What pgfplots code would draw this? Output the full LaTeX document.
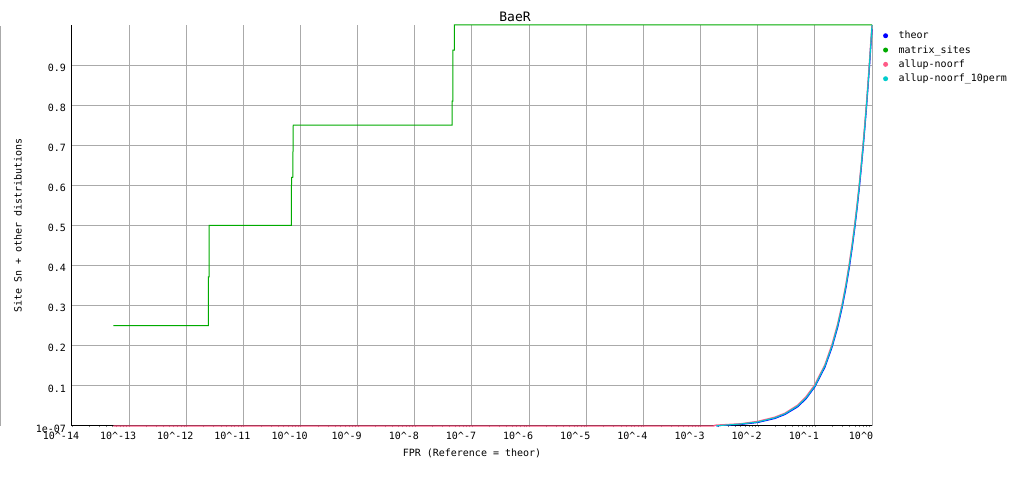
\documentclass[border=0pt]{standalone}
\usepackage{pgfplots}
\pgfplotsset{compat=1.18}
\usepackage{fontspec}
\setmonofont{DejaVu Sans Mono}
\definecolor{cTheor}{RGB}{0,0,255}
\definecolor{cMatrix}{RGB}{0,170,0}
\definecolor{cPink}{RGB}{255,90,135}
\definecolor{cCyan}{RGB}{0,204,204}
\definecolor{cGrid}{RGB}{170,170,170}
\begin{document}
\begin{tikzpicture}
\useasboundingbox (-72pt,-52pt) rectangle (958pt,426pt);
\draw[cGrid, line width=1pt] (-71.5pt,0pt) -- (-71.5pt,400pt);
\begin{axis}[
  at={(0pt,0pt)}, anchor=south west,
  scale only axis, width=800pt, height=401pt,
  xmode=log, xmin=1e-14, xmax=1, ymin=1e-7, ymax=1,
  axis x line=bottom, axis y line=left,
  axis line style={-, black, line width=1pt},
  major tick length=0pt,
  clip=false,
  font=\ttfamily\fontsize{10}{12}\selectfont,
  xtick={1e-14,1e-13,1e-12,1e-11,1e-10,1e-9,1e-8,1e-7,1e-6,1e-5,1e-4,1e-3,1e-2,1e-1,1},
  xticklabels={10\textasciicircum-14,10\textasciicircum-13,10\textasciicircum-12,10\textasciicircum-11,10\textasciicircum-10,10\textasciicircum-9,10\textasciicircum-8,10\textasciicircum-7,10\textasciicircum-6,10\textasciicircum-5,10\textasciicircum-4,10\textasciicircum-3,10\textasciicircum-2,10\textasciicircum-1,10\textasciicircum0},
  xticklabel style={anchor=north, xshift=-11pt, yshift=-2.5pt},
  ytick={1e-7,0.1,0.2,0.3,0.4,0.5,0.6,0.7,0.8,0.9},
  yticklabels={1e-07,0.1,0.2,0.3,0.4,0.5,0.6,0.7,0.8,0.9},
  yticklabel style={anchor=east, xshift=-2.5pt, yshift=-2.5pt},
  xmajorgrids, ymajorgrids,
  major grid style={cGrid, line width=1pt},
  xlabel={FPR (Reference = theor)},
  xlabel style={at={(axis description cs:0.5,0)}, anchor=center, yshift=-27pt},
  ylabel={Site Sn + other distributions},
  ylabel style={at={(axis description cs:-0.0675,0.5)}, anchor=center},
  legend style={at={(rel axis cs:1.008,0.995)}, anchor=north west, draw=none, fill=none,
    font=\ttfamily\fontsize{10}{12}\selectfont, row sep=1.2pt,
    legend cell align=left},
]
\addplot[cTheor, line width=1.3pt, forget plot] coordinates {
(0.0019,1e-7) (0.0022,0.0015) (0.005,0.004) (0.01,0.009) (0.02,0.019)
(0.03,0.029) (0.05,0.048) (0.07,0.068) (0.1,0.098) (0.15,0.147) (0.2,0.197)
(0.25,0.246) (0.3,0.296) (0.35,0.345) (0.4,0.395) (0.45,0.445) (0.5,0.495)
(0.55,0.545) (0.6,0.595) (0.65,0.645) (0.7,0.695) (0.75,0.745) (0.8,0.795)
(0.85,0.845) (0.9,0.895) (0.95,0.945) (1,0.99)};
\addplot[cMatrix, line width=1pt, forget plot] coordinates {
(5.3e-14,0.25) (2.43e-12,0.25) (2.43e-12,0.372) (2.52e-12,0.372) (2.52e-12,0.5)
(6.89e-11,0.5) (6.95e-11,0.62) (7.3e-11,0.62) (7.45e-11,0.75)
(4.47e-8,0.75) (4.47e-8,0.81) (4.65e-8,0.81) (4.65e-8,0.9375) (4.9e-8,0.9375) (4.9e-8,1) (1,1)};
\addplot[cPink, line width=1.3pt, forget plot] coordinates {
(5.3e-14,1e-7) (0.0017,1e-7) (0.0018,0.002) (0.005,0.0055) (0.01,0.0115) (0.02,0.022)
(0.03,0.032) (0.05,0.052) (0.07,0.073) (0.1,0.103) (0.15,0.153) (0.2,0.204)
(0.25,0.254) (0.3,0.304) (0.35,0.354) (0.4,0.405) (0.45,0.455) (0.5,0.505)
(0.55,0.555) (0.6,0.605) (0.65,0.655) (0.7,0.705) (0.75,0.755) (0.8,0.805)
(0.85,0.855) (0.9,0.905) (0.95,0.955) (1,1)};
\addplot[cCyan, line width=1.1pt, forget plot] coordinates {
(0.0019,0.0006) (0.005,0.005) (0.01,0.01) (0.02,0.0205)
(0.03,0.0305) (0.05,0.05) (0.07,0.07) (0.1,0.1) (0.15,0.15) (0.2,0.2)
(0.25,0.25) (0.3,0.3) (0.35,0.35) (0.4,0.4) (0.45,0.45) (0.5,0.5)
(0.55,0.55) (0.6,0.6) (0.65,0.65) (0.7,0.7) (0.75,0.75) (0.8,0.8)
(0.85,0.85) (0.9,0.9) (0.95,0.95) (1,1)};
\addlegendimage{legend image code/.code={\fill[cTheor, draw=none] (4pt,0pt) circle (2.5pt); \path[draw=none, fill=none] (0pt,-3pt) rectangle (15pt,3pt);}}
\addlegendentry{theor}
\addlegendimage{legend image code/.code={\fill[cMatrix, draw=none] (4pt,0pt) circle (2.5pt); \path[draw=none, fill=none] (0pt,-3pt) rectangle (15pt,3pt);}}
\addlegendentry{matrix\_sites}
\addlegendimage{legend image code/.code={\fill[cPink, draw=none] (4pt,0pt) circle (2.5pt); \path[draw=none, fill=none] (0pt,-3pt) rectangle (15pt,3pt);}}
\addlegendentry{allup-noorf}
\addlegendimage{legend image code/.code={\fill[cCyan, draw=none] (4pt,0pt) circle (2.5pt); \path[draw=none, fill=none] (0pt,-3pt) rectangle (15pt,3pt);}}
\addlegendentry{allup-noorf\_10perm}
\end{axis}
\node[font=\ttfamily\fontsize{13}{15}\selectfont] at (443pt,409pt) {BaeR};
\end{tikzpicture}
\end{document}
